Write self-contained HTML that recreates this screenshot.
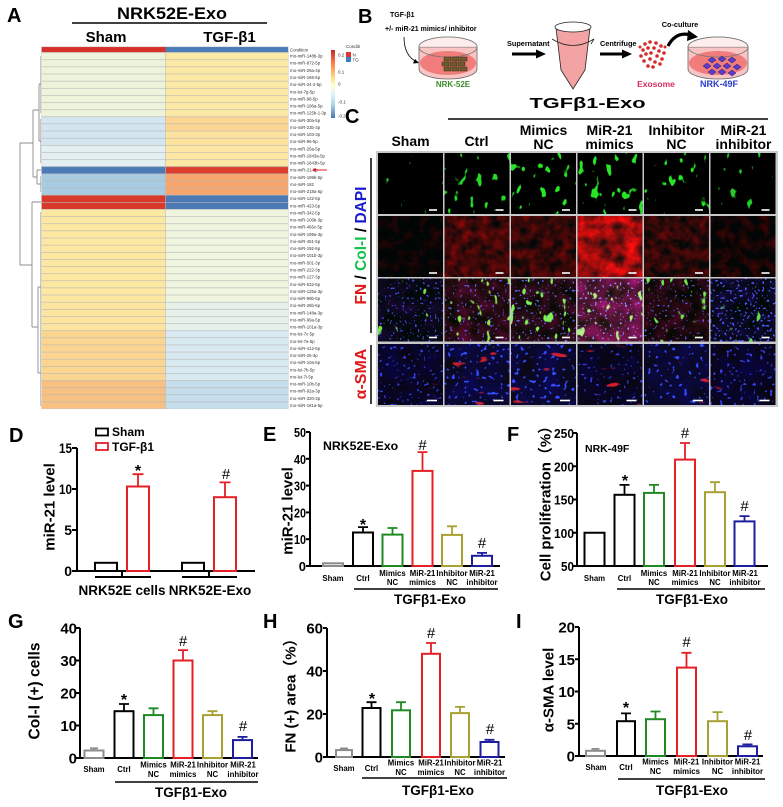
<!DOCTYPE html>
<html><head><meta charset="utf-8"><style>
html,body{margin:0;padding:0;background:#fff;}
svg{display:block;font-family:"Liberation Sans","Noto Sans CJK SC",Arial,sans-serif;}
.b{font-weight:bold;}
.xl{font-size:7.8px;font-weight:bold;text-anchor:middle;}
.tk{font-size:13px;font-weight:bold;text-anchor:end;}
.tk2{font-size:15px;font-weight:bold;text-anchor:end;}
.hl{font-size:4.3px;fill:#333;}
.ax{fill:none;stroke:#000;stroke-width:2;}
.bar{fill:#fff;stroke-width:2;}
.er{stroke-width:1.8;fill:none;}
.sb{stroke:#fff;stroke-width:1.6;}
</style></head><body>
<svg width="783" height="807" viewBox="0 0 783 807" xmlns="http://www.w3.org/2000/svg">
<defs>
<pattern id="rows" x="0" y="52.3" width="300" height="7.13" patternUnits="userSpaceOnUse"><line x1="0" y1="0.3" x2="300" y2="0.3" stroke="#b5b5b5" stroke-width="0.6"/></pattern>
<linearGradient id="cbar" x1="0" y1="0" x2="0" y2="1">
<stop offset="0" stop-color="#c0262b"/><stop offset="0.15" stop-color="#f46d43"/><stop offset="0.3" stop-color="#fdae61"/><stop offset="0.42" stop-color="#fee090"/><stop offset="0.52" stop-color="#ffffcf"/><stop offset="0.65" stop-color="#e0f3f8"/><stop offset="0.8" stop-color="#abd9e9"/><stop offset="1" stop-color="#4575b4"/>
</linearGradient>
<!-- green row -->
<filter id="g1" x="0" y="0" width="1" height="1" color-interpolation-filters="sRGB"><feTurbulence type="fractalNoise" baseFrequency="0.13 0.08" numOctaves="2" seed="3"/><feColorMatrix values="0 0 0 0 0.15 0 0 0 0 0.9 0 0 0 0 0.15 0 0 0 16 -12.2"/></filter>
<filter id="g2" x="0" y="0" width="1" height="1" color-interpolation-filters="sRGB"><feTurbulence type="fractalNoise" baseFrequency="0.13 0.08" numOctaves="2" seed="5"/><feColorMatrix values="0 0 0 0 0.15 0 0 0 0 0.85 0 0 0 0 0.15 0 0 0 16 -10.7"/></filter>
<filter id="g3" x="0" y="0" width="1" height="1" color-interpolation-filters="sRGB"><feTurbulence type="fractalNoise" baseFrequency="0.13 0.08" numOctaves="2" seed="7"/><feColorMatrix values="0 0 0 0 0.15 0 0 0 0 0.9 0 0 0 0 0.15 0 0 0 16 -10.5"/></filter>
<filter id="g4" x="0" y="0" width="1" height="1" color-interpolation-filters="sRGB"><feTurbulence type="fractalNoise" baseFrequency="0.13 0.08" numOctaves="2" seed="9"/><feColorMatrix values="0 0 0 0 0.15 0 0 0 0 0.9 0 0 0 0 0.15 0 0 0 16 -10.1"/></filter>
<filter id="g5" x="0" y="0" width="1" height="1" color-interpolation-filters="sRGB"><feTurbulence type="fractalNoise" baseFrequency="0.13 0.08" numOctaves="2" seed="11"/><feColorMatrix values="0 0 0 0 0.15 0 0 0 0 0.9 0 0 0 0 0.15 0 0 0 16 -10.75"/></filter>
<filter id="g6" x="0" y="0" width="1" height="1" color-interpolation-filters="sRGB"><feTurbulence type="fractalNoise" baseFrequency="0.13 0.08" numOctaves="2" seed="13"/><feColorMatrix values="0 0 0 0 0.15 0 0 0 0 0.8 0 0 0 0 0.15 0 0 0 16 -11.7"/></filter>
<!-- red row -->
<filter id="r1" x="0" y="0" width="1" height="1" color-interpolation-filters="sRGB"><feTurbulence type="fractalNoise" baseFrequency="0.1" numOctaves="3" seed="6"/><feColorMatrix values="0 0 0 0.4 -0.17 0 0 0 0 0.02 0 0 0 0 0.02 0 0 0 0 1"/></filter>
<filter id="r2" x="0" y="0" width="1" height="1" color-interpolation-filters="sRGB"><feTurbulence type="fractalNoise" baseFrequency="0.1" numOctaves="3" seed="8"/><feColorMatrix values="0 0 0 0.8 -0.15 0 0 0 0 0.03 0 0 0 0 0.03 0 0 0 0 1"/></filter>
<filter id="r3" x="0" y="0" width="1" height="1" color-interpolation-filters="sRGB"><feTurbulence type="fractalNoise" baseFrequency="0.1" numOctaves="3" seed="10"/><feColorMatrix values="0 0 0 0.75 -0.17 0 0 0 0 0.03 0 0 0 0 0.03 0 0 0 0 1"/></filter>
<filter id="r4" x="0" y="0" width="1" height="1" color-interpolation-filters="sRGB"><feTurbulence type="fractalNoise" baseFrequency="0.08" numOctaves="3" seed="12"/><feColorMatrix values="0 0 0 1.4 -0.1 0 0 0 0 0.05 0 0 0 0 0.05 0 0 0 0 1"/></filter>
<filter id="r5" x="0" y="0" width="1" height="1" color-interpolation-filters="sRGB"><feTurbulence type="fractalNoise" baseFrequency="0.1" numOctaves="3" seed="14"/><feColorMatrix values="0 0 0 0.7 -0.17 0 0 0 0 0.03 0 0 0 0 0.03 0 0 0 0 1"/></filter>
<filter id="r6" x="0" y="0" width="1" height="1" color-interpolation-filters="sRGB"><feTurbulence type="fractalNoise" baseFrequency="0.1" numOctaves="3" seed="16"/><feColorMatrix values="0 0 0 0.5 -0.18 0 0 0 0 0.02 0 0 0 0 0.02 0 0 0 0 1"/></filter>
<!-- merge row -->
<filter id="m1" x="0" y="0" width="1" height="1" color-interpolation-filters="sRGB"><feTurbulence type="fractalNoise" baseFrequency="0.07" numOctaves="2" seed="21" result="n1"/><feColorMatrix in="n1" values="0 0 0 0.15 -0.04 0 0 0 0 0.03 0 0 0 0.3 -0.06 0 0 0 0 1" result="h"/><feTurbulence type="fractalNoise" baseFrequency="0.4" numOctaves="1" seed="2" result="n2"/><feColorMatrix in="n2" values="0 0 0 0 0.25 0 0 0 0 0.3 0 0 0 0 0.9 0 0 0 20 -13.0" result="dt"/><feTurbulence type="fractalNoise" baseFrequency="0.13 0.08" numOctaves="2" seed="23" result="n3"/><feColorMatrix in="n3" values="0 0 0 0 0.45 0 0 0 0 0.9 0 0 0 0 0.3 0 0 0 16 -12.2" result="gr"/><feMerge><feMergeNode in="h"/><feMergeNode in="dt"/><feMergeNode in="gr"/></feMerge></filter>
<filter id="m2" x="0" y="0" width="1" height="1" color-interpolation-filters="sRGB"><feTurbulence type="fractalNoise" baseFrequency="0.07" numOctaves="2" seed="25" result="n1"/><feColorMatrix in="n1" values="0 0 0 0.5 -0.1 0 0 0 0 0.04 0 0 0 0.3 -0.08 0 0 0 0 1" result="h"/><feTurbulence type="fractalNoise" baseFrequency="0.4" numOctaves="1" seed="4" result="n2"/><feColorMatrix in="n2" values="0 0 0 0 0.4 0 0 0 0 0.35 0 0 0 0 0.95 0 0 0 20 -13.0" result="dt"/><feTurbulence type="fractalNoise" baseFrequency="0.13 0.08" numOctaves="2" seed="27" result="n3"/><feColorMatrix in="n3" values="0 0 0 0 0.55 0 0 0 0 0.9 0 0 0 0 0.3 0 0 0 16 -10.9" result="gr"/><feMerge><feMergeNode in="h"/><feMergeNode in="dt"/><feMergeNode in="gr"/></feMerge></filter>
<filter id="m3" x="0" y="0" width="1" height="1" color-interpolation-filters="sRGB"><feTurbulence type="fractalNoise" baseFrequency="0.07" numOctaves="2" seed="29" result="n1"/><feColorMatrix in="n1" values="0 0 0 0.45 -0.1 0 0 0 0 0.04 0 0 0 0.25 -0.06 0 0 0 0 1" result="h"/><feTurbulence type="fractalNoise" baseFrequency="0.4" numOctaves="1" seed="6" result="n2"/><feColorMatrix in="n2" values="0 0 0 0 0.35 0 0 0 0 0.4 0 0 0 0 0.95 0 0 0 20 -13.0" result="dt"/><feTurbulence type="fractalNoise" baseFrequency="0.13 0.08" numOctaves="2" seed="31" result="n3"/><feColorMatrix in="n3" values="0 0 0 0 0.5 0 0 0 0 0.95 0 0 0 0 0.35 0 0 0 16 -10.6" result="gr"/><feMerge><feMergeNode in="h"/><feMergeNode in="dt"/><feMergeNode in="gr"/></feMerge></filter>
<filter id="m4" x="0" y="0" width="1" height="1" color-interpolation-filters="sRGB"><feTurbulence type="fractalNoise" baseFrequency="0.07" numOctaves="2" seed="33" result="n1"/><feColorMatrix in="n1" values="0 0 0 0.8 -0.05 0 0 0 0 0.08 0 0 0 0.6 -0.08 0 0 0 0 1" result="h"/><feTurbulence type="fractalNoise" baseFrequency="0.4" numOctaves="1" seed="8" result="n2"/><feColorMatrix in="n2" values="0 0 0 0 0.55 0 0 0 0 0.55 0 0 0 0 1 0 0 0 20 -13.0" result="dt"/><feTurbulence type="fractalNoise" baseFrequency="0.13 0.08" numOctaves="2" seed="35" result="n3"/><feColorMatrix in="n3" values="0 0 0 0 0.7 0 0 0 0 0.95 0 0 0 0 0.5 0 0 0 16 -10.6" result="gr"/><feMerge><feMergeNode in="h"/><feMergeNode in="dt"/><feMergeNode in="gr"/></feMerge></filter>
<filter id="m5" x="0" y="0" width="1" height="1" color-interpolation-filters="sRGB"><feTurbulence type="fractalNoise" baseFrequency="0.07" numOctaves="2" seed="37" result="n1"/><feColorMatrix in="n1" values="0 0 0 0.45 -0.11 0 0 0 0 0.03 0 0 0 0.2 -0.05 0 0 0 0 1" result="h"/><feTurbulence type="fractalNoise" baseFrequency="0.4" numOctaves="1" seed="10" result="n2"/><feColorMatrix in="n2" values="0 0 0 0 0.35 0 0 0 0 0.35 0 0 0 0 0.9 0 0 0 20 -13.2" result="dt"/><feTurbulence type="fractalNoise" baseFrequency="0.13 0.08" numOctaves="2" seed="39" result="n3"/><feColorMatrix in="n3" values="0 0 0 0 0.45 0 0 0 0 0.9 0 0 0 0 0.3 0 0 0 16 -11.0" result="gr"/><feMerge><feMergeNode in="h"/><feMergeNode in="dt"/><feMergeNode in="gr"/></feMerge></filter>
<filter id="m6" x="0" y="0" width="1" height="1" color-interpolation-filters="sRGB"><feTurbulence type="fractalNoise" baseFrequency="0.07" numOctaves="2" seed="41" result="n1"/><feColorMatrix in="n1" values="0 0 0 0.15 -0.04 0 0 0 0 0.03 0 0 0 0.45 -0.1 0 0 0 0 1" result="h"/><feTurbulence type="fractalNoise" baseFrequency="0.4" numOctaves="1" seed="12" result="n2"/><feColorMatrix in="n2" values="0 0 0 0 0.3 0 0 0 0 0.35 0 0 0 0 1 0 0 0 20 -12.6" result="dt"/><feTurbulence type="fractalNoise" baseFrequency="0.13 0.08" numOctaves="2" seed="43" result="n3"/><feColorMatrix in="n3" values="0 0 0 0 0.4 0 0 0 0 0.85 0 0 0 0 0.3 0 0 0 16 -11.8" result="gr"/><feMerge><feMergeNode in="h"/><feMergeNode in="dt"/><feMergeNode in="gr"/></feMerge></filter>
<!-- alpha-SMA row -->
<filter id="s1" x="0" y="0" width="1" height="1" color-interpolation-filters="sRGB"><feTurbulence type="fractalNoise" baseFrequency="0.05" numOctaves="2" seed="51" result="n1"/><feColorMatrix in="n1" values="0 0 0 0 0.03 0 0 0 0 0.02 0 0 0 0.3 0.0 0 0 0 0 1" result="h"/><feTurbulence type="fractalNoise" baseFrequency="0.3" numOctaves="1" seed="52" result="n2"/><feColorMatrix in="n2" values="0 0 0 0 0.2 0 0 0 0 0.25 0 0 0 0 0.9 0 0 0 18 -11.6" result="dt"/><feTurbulence type="fractalNoise" baseFrequency="0.04 0.12" numOctaves="2" seed="53" result="n3"/><feColorMatrix in="n3" values="0 0 0 0 0.85 0 0 0 0 0.1 0 0 0 0 0.15 0 0 0 16 -12.5" result="rd"/><feMerge><feMergeNode in="h"/><feMergeNode in="dt"/><feMergeNode in="rd"/></feMerge></filter>
<filter id="s2" x="0" y="0" width="1" height="1" color-interpolation-filters="sRGB"><feTurbulence type="fractalNoise" baseFrequency="0.05" numOctaves="2" seed="55" result="n1"/><feColorMatrix in="n1" values="0 0 0 0 0.04 0 0 0 0 0.03 0 0 0 0.4 0.0 0 0 0 0 1" result="h"/><feTurbulence type="fractalNoise" baseFrequency="0.25" numOctaves="1" seed="56" result="n2"/><feColorMatrix in="n2" values="0 0 0 0 0.2 0 0 0 0 0.3 0 0 0 0 1 0 0 0 18 -11.5" result="dt"/><feTurbulence type="fractalNoise" baseFrequency="0.04 0.12" numOctaves="2" seed="57" result="n3"/><feColorMatrix in="n3" values="0 0 0 0 0.8 0 0 0 0 0.12 0 0 0 0 0.2 0 0 0 16 -11.5" result="rd"/><feMerge><feMergeNode in="h"/><feMergeNode in="dt"/><feMergeNode in="rd"/></feMerge></filter>
<filter id="s3" x="0" y="0" width="1" height="1" color-interpolation-filters="sRGB"><feTurbulence type="fractalNoise" baseFrequency="0.05" numOctaves="2" seed="59" result="n1"/><feColorMatrix in="n1" values="0 0 0 0 0.04 0 0 0 0 0.03 0 0 0 0.4 0.0 0 0 0 0 1" result="h"/><feTurbulence type="fractalNoise" baseFrequency="0.25" numOctaves="1" seed="60" result="n2"/><feColorMatrix in="n2" values="0 0 0 0 0.2 0 0 0 0 0.3 0 0 0 0 1 0 0 0 18 -11.5" result="dt"/><feTurbulence type="fractalNoise" baseFrequency="0.04 0.12" numOctaves="2" seed="61" result="n3"/><feColorMatrix in="n3" values="0 0 0 0 0.8 0 0 0 0 0.12 0 0 0 0 0.2 0 0 0 16 -11.7" result="rd"/><feMerge><feMergeNode in="h"/><feMergeNode in="dt"/><feMergeNode in="rd"/></feMerge></filter>
<filter id="s4" x="0" y="0" width="1" height="1" color-interpolation-filters="sRGB"><feTurbulence type="fractalNoise" baseFrequency="0.05" numOctaves="2" seed="63" result="n1"/><feColorMatrix in="n1" values="0 0 0 0 0.03 0 0 0 0 0.02 0 0 0 0.25 0.0 0 0 0 0 1" result="h"/><feTurbulence type="fractalNoise" baseFrequency="0.3" numOctaves="1" seed="64" result="n2"/><feColorMatrix in="n2" values="0 0 0 0 0.2 0 0 0 0 0.25 0 0 0 0 0.9 0 0 0 18 -11.9" result="dt"/><feTurbulence type="fractalNoise" baseFrequency="0.04 0.12" numOctaves="2" seed="65" result="n3"/><feColorMatrix in="n3" values="0 0 0 0 0.85 0 0 0 0 0.1 0 0 0 0 0.15 0 0 0 16 -11.7" result="rd"/><feMerge><feMergeNode in="h"/><feMergeNode in="dt"/><feMergeNode in="rd"/></feMerge></filter>
<filter id="s5" x="0" y="0" width="1" height="1" color-interpolation-filters="sRGB"><feTurbulence type="fractalNoise" baseFrequency="0.05" numOctaves="2" seed="67" result="n1"/><feColorMatrix in="n1" values="0 0 0 0 0.04 0 0 0 0 0.03 0 0 0 0.4 0.0 0 0 0 0 1" result="h"/><feTurbulence type="fractalNoise" baseFrequency="0.25" numOctaves="1" seed="68" result="n2"/><feColorMatrix in="n2" values="0 0 0 0 0.2 0 0 0 0 0.3 0 0 0 0 1 0 0 0 18 -11.6" result="dt"/><feTurbulence type="fractalNoise" baseFrequency="0.04 0.12" numOctaves="2" seed="69" result="n3"/><feColorMatrix in="n3" values="0 0 0 0 0.8 0 0 0 0 0.12 0 0 0 0 0.2 0 0 0 16 -11.75" result="rd"/><feMerge><feMergeNode in="h"/><feMergeNode in="dt"/><feMergeNode in="rd"/></feMerge></filter>
<filter id="s6" x="0" y="0" width="1" height="1" color-interpolation-filters="sRGB"><feTurbulence type="fractalNoise" baseFrequency="0.05" numOctaves="2" seed="71" result="n1"/><feColorMatrix in="n1" values="0 0 0 0 0.03 0 0 0 0 0.02 0 0 0 0.3 0.0 0 0 0 0 1" result="h"/><feTurbulence type="fractalNoise" baseFrequency="0.3" numOctaves="1" seed="72" result="n2"/><feColorMatrix in="n2" values="0 0 0 0 0.2 0 0 0 0 0.25 0 0 0 0 0.9 0 0 0 18 -11.6" result="dt"/><feTurbulence type="fractalNoise" baseFrequency="0.04 0.12" numOctaves="2" seed="73" result="n3"/><feColorMatrix in="n3" values="0 0 0 0 0.85 0 0 0 0 0.1 0 0 0 0 0.15 0 0 0 16 -12.5" result="rd"/><feMerge><feMergeNode in="h"/><feMergeNode in="dt"/><feMergeNode in="rd"/></feMerge></filter>
</defs>

<rect width="783" height="807" fill="#fff"/>

<!-- ================= PANEL A ================= -->
<text x="7" y="22" class="b" font-size="20">A</text>
<text x="172" y="19" class="b" font-size="17" text-anchor="middle" textLength="110" lengthAdjust="spacingAndGlyphs">NRK52E-Exo</text>
<line x1="72" y1="23" x2="267" y2="23" stroke="#000" stroke-width="1.5"/>
<text x="106" y="42" class="b" font-size="15" text-anchor="middle">Sham</text>
<text x="229.5" y="42" class="b" font-size="15" text-anchor="middle">TGF-β1</text>

<rect x="41.5" y="46.8" width="124" height="5.5" fill="#d7302a"/>
<rect x="165.5" y="46.8" width="122.8" height="5.5" fill="#4a7cb6"/>
<rect x="41.5" y="52.3" width="124" height="64.17" fill="#eef4db"/>
<rect x="41.5" y="116.47" width="124" height="28.52" fill="#d3e6ef"/>
<rect x="41.5" y="144.99" width="124" height="21.39" fill="#e3eff0"/>
<rect x="41.5" y="166.38" width="124" height="7.13" fill="#4b7bb5"/>
<rect x="41.5" y="173.51" width="124" height="21.39" fill="#a8cbe2"/>
<rect x="41.5" y="194.9" width="124" height="14.26" fill="#d8392b"/>
<rect x="41.5" y="209.16" width="124" height="92.69" fill="#fde8a2"/>
<rect x="41.5" y="301.85" width="124" height="28.52" fill="#fde5a0"/>
<rect x="41.5" y="330.37" width="124" height="49.91" fill="#fcd591"/>
<rect x="41.5" y="380.28" width="124" height="28.52" fill="#f8c081"/>
<rect x="165.5" y="52.3" width="122.8" height="64.17" fill="#fde9a6"/>
<rect x="165.5" y="116.47" width="122.8" height="14.26" fill="#fcd592"/>
<rect x="165.5" y="130.73" width="122.8" height="14.26" fill="#fde39d"/>
<rect x="165.5" y="144.99" width="122.8" height="21.39" fill="#fde7a2"/>
<rect x="165.5" y="166.38" width="122.8" height="7.13" fill="#dd3d2d"/>
<rect x="165.5" y="173.51" width="122.8" height="21.39" fill="#f6a66c"/>
<rect x="165.5" y="194.9" width="122.8" height="14.26" fill="#4d79b5"/>
<rect x="165.5" y="209.16" width="122.8" height="92.69" fill="#eff5df"/>
<rect x="165.5" y="301.85" width="122.8" height="28.52" fill="#e6f1ea"/>
<rect x="165.5" y="330.37" width="122.8" height="49.91" fill="#d9e9f1"/>
<rect x="165.5" y="380.28" width="122.8" height="28.52" fill="#c6ddec"/>
<rect x="41.5" y="52.3" width="246.8" height="356.5" fill="url(#rows)"/>
<line x1="165.5" y1="52.3" x2="165.5" y2="408.8" stroke="#bbb" stroke-width="0.6"/>
<rect x="41.5" y="46.8" width="246.8" height="362" fill="none" stroke="#c8c8c8" stroke-width="0.5"/>

<g stroke="#8c8c8c" stroke-width="0.9" fill="none">
<path d="M20,143 V265 M20,143 H33 M20,265 H32"/>
<path d="M33,110 V177 M33,110 H39 M33,177 H37"/>
<path d="M39,84 V141 M39,84 H41 M39,141 H41"/>
<path d="M37,170 V184 M37,170 H41 M37,184 H41"/>
<path d="M32,202 V327 M32,202 H41 M32,327 H38"/>
<path d="M38,287 V373 M38,287 H41 M38,373 H41"/>
<path d="M40.5,56 V113 M40.5,119 V163 M40.5,176 V192 M40.5,212 V406" stroke-width="0.5"/>
</g>

<text x="290" y="51.5" class="hl">Condition</text>
<text x="290" y="57.6" class="hl">rno-miR-148b-3p</text>
<text x="290" y="64.7" class="hl">rno-miR-872-5p</text>
<text x="290" y="71.9" class="hl">rno-miR-29a-3p</text>
<text x="290" y="79.0" class="hl">rno-miR-155-5p</text>
<text x="290" y="86.1" class="hl">rno-miR-24-2-5p</text>
<text x="290" y="93.3" class="hl">rno-let-7g-5p</text>
<text x="290" y="100.4" class="hl">rno-miR-98-5p</text>
<text x="290" y="107.5" class="hl">rno-miR-196a-5p</text>
<text x="290" y="114.6" class="hl">rno-miR-125b-1-3p</text>
<text x="290" y="121.8" class="hl">rno-miR-30a-5p</text>
<text x="290" y="128.9" class="hl">rno-miR-23b-3p</text>
<text x="290" y="136.0" class="hl">rno-miR-103-3p</text>
<text x="290" y="143.2" class="hl">rno-miR-96-5p</text>
<text x="290" y="150.3" class="hl">rno-miR-26a-5p</text>
<text x="290" y="157.4" class="hl">rno-miR-1843a-5p</text>
<text x="290" y="164.6" class="hl">rno-miR-1843b-5p</text>
<text x="290" y="171.7" class="hl">rno-miR-21-3p</text>
<text x="290" y="178.8" class="hl">rno-miR-199b-5p</text>
<text x="290" y="185.9" class="hl">rno-miR-182</text>
<text x="290" y="193.1" class="hl">rno-miR-218a-5p</text>
<text x="290" y="200.2" class="hl">rno-miR-122-5p</text>
<text x="290" y="207.3" class="hl">rno-miR-423-5p</text>
<text x="290" y="214.5" class="hl">rno-miR-342-5p</text>
<text x="290" y="221.6" class="hl">rno-miR-106b-3p</text>
<text x="290" y="228.7" class="hl">rno-miR-466c-5p</text>
<text x="290" y="235.9" class="hl">rno-miR-199a-3p</text>
<text x="290" y="243.0" class="hl">rno-miR-451-5p</text>
<text x="290" y="250.1" class="hl">rno-miR-192-5p</text>
<text x="290" y="257.2" class="hl">rno-miR-101b-3p</text>
<text x="290" y="264.4" class="hl">rno-miR-501-3p</text>
<text x="290" y="271.5" class="hl">rno-miR-222-3p</text>
<text x="290" y="278.6" class="hl">rno-miR-127-3p</text>
<text x="290" y="285.8" class="hl">rno-miR-532-5p</text>
<text x="290" y="292.9" class="hl">rno-miR-125a-3p</text>
<text x="290" y="300.0" class="hl">rno-miR-99b-5p</text>
<text x="290" y="307.2" class="hl">rno-miR-26b-5p</text>
<text x="290" y="314.3" class="hl">rno-miR-148a-3p</text>
<text x="290" y="321.4" class="hl">rno-miR-99a-5p</text>
<text x="290" y="328.5" class="hl">rno-miR-101a-3p</text>
<text x="290" y="335.7" class="hl">rno-let-7c-5p</text>
<text x="290" y="342.8" class="hl">rno-let-7a-5p</text>
<text x="290" y="349.9" class="hl">rno-miR-412-5p</text>
<text x="290" y="357.1" class="hl">rno-miR-25-3p</text>
<text x="290" y="364.2" class="hl">rno-miR-10a-5p</text>
<text x="290" y="371.3" class="hl">rno-let-7b-5p</text>
<text x="290" y="378.5" class="hl">rno-let-7i-5p</text>
<text x="290" y="385.6" class="hl">rno-miR-10b-5p</text>
<text x="290" y="392.7" class="hl">rno-miR-92a-3p</text>
<text x="290" y="399.8" class="hl">rno-miR-320-3p</text>
<text x="290" y="407.0" class="hl">rno-miR-181a-5p</text>
<line x1="314" y1="170" x2="327" y2="170" stroke="#e0202a" stroke-width="1"/>
<polygon points="312,170 316,168 316,172" fill="#e0202a"/>
<rect x="331" y="50" width="4" height="68" fill="url(#cbar)"/>
<g font-size="4.5" fill="#333">
<text x="338" y="56.5">0.2</text><text x="338" y="73.5">0.1</text><text x="338" y="85.5">0</text><text x="338" y="103.5">-0.1</text><text x="338" y="117.5">-0.2</text>
<text x="346" y="48">Conditi</text>
</g>
<rect x="346" y="52" width="5" height="5" fill="#e0332c"/><text x="352.5" y="56.5" font-size="4.5" fill="#333">N</text>
<rect x="346" y="57" width="5" height="5" fill="#3d7fc0"/><text x="352.5" y="61.5" font-size="4.5" fill="#333">TG</text>

<!-- ================= PANEL B ================= -->
<text x="358" y="23" class="b" font-size="20">B</text>
<text x="390" y="17" class="b" font-size="7">TGF-β1</text>
<text x="385" y="31" class="b" font-size="7">+/- miR-21 mimics/ inhibitor</text>
<path d="M404,37 Q404,56 417,62" fill="none" stroke="#000" stroke-width="0.8"/>
<polygon points="419,63 413,63.5 415,59" fill="#000"/>
<path d="M419,47 L419,69 A29,10 0 0 0 477,69 L477,47 Z" fill="#f8c4c4" stroke="#666" stroke-width="0.8"/>
<ellipse cx="448" cy="63" rx="28" ry="12" fill="#f07c7c"/>
<ellipse cx="448" cy="47" rx="29" ry="10" fill="none" stroke="#777" stroke-width="0.8"/>
<path d="M419,47 A29,10 0 0 1 477,47" fill="#fde6e6" fill-opacity="0.7" stroke="#777" stroke-width="0.8"/>
<g fill="#6e5a2e" stroke="#3a2e10" stroke-width="0.5">
<rect x="444" y="57" width="7" height="4"/><rect x="452" y="57" width="7" height="4"/><rect x="460" y="57" width="7" height="4"/>
<rect x="442" y="62" width="7" height="4"/><rect x="450" y="62" width="7" height="4"/><rect x="458" y="62" width="7" height="4"/>
<rect x="444" y="67" width="7" height="4"/><rect x="452" y="67" width="7" height="4"/><rect x="460" y="67" width="7" height="4"/>
</g>
<text x="453" y="87" class="b" font-size="8" fill="#3d8b2a" text-anchor="middle">NRK-52E</text>
<text x="507" y="46" class="b" font-size="7.3">Supernatant</text>
<line x1="512" y1="54" x2="538" y2="54" stroke="#000" stroke-width="3"/>
<polygon points="536,49.5 546,54 536,58.5" fill="#000"/>
<path d="M556,28 L561,70 L573,89 L585,70 L590,28 Z" fill="#f3a3a3" stroke="#222" stroke-width="0.8"/>
<ellipse cx="573" cy="27" rx="18" ry="5" fill="#fff" stroke="#222" stroke-width="0.8"/>
<path d="M552,39 Q573,52 594,39" fill="none" stroke="#222" stroke-width="0.8"/>
<path d="M594,39 L591,44" fill="none" stroke="#222" stroke-width="0.8"/>
<text x="600" y="46" class="b" font-size="7.3">Centrifuge</text>
<line x1="600" y1="54" x2="624" y2="54" stroke="#000" stroke-width="3"/>
<polygon points="622,49.5 632,54 622,58.5" fill="#000"/>
<g fill="#d42a2a">
<circle cx="645" cy="44" r="1.8"/><circle cx="650" cy="42" r="1.8"/><circle cx="656" cy="43" r="1.8"/><circle cx="661" cy="46" r="1.8"/>
<circle cx="643" cy="50" r="1.8"/><circle cx="648" cy="48" r="1.8"/><circle cx="654" cy="48" r="1.8"/><circle cx="659" cy="51" r="1.8"/><circle cx="664" cy="53" r="1.8"/>
<circle cx="641" cy="56" r="1.8"/><circle cx="646" cy="54" r="1.8"/><circle cx="651" cy="53" r="1.8"/><circle cx="657" cy="56" r="1.8"/><circle cx="662" cy="59" r="1.8"/>
<circle cx="644" cy="61" r="1.8"/><circle cx="650" cy="59" r="1.8"/><circle cx="655" cy="62" r="1.8"/><circle cx="660" cy="64" r="1.8"/>
<circle cx="648" cy="66" r="1.8"/><circle cx="653" cy="67" r="1.8"/><circle cx="640" cy="47" r="1.5"/><circle cx="665" cy="47" r="1.5"/>
</g>
<text x="656" y="87" class="b" font-size="8.5" fill="#d62a5a" text-anchor="middle">Exosome</text>
<text x="680" y="27" class="b" font-size="7.3" text-anchor="middle">Co-culture</text>
<path d="M668,46 Q676,31 691,35" fill="none" stroke="#000" stroke-width="3.2"/>
<polygon points="688,30 698,37 687,41" fill="#000"/>
<path d="M688,47 L688,69 A30,10 0 0 0 748,69 L748,47 Z" fill="#f8c4c4" stroke="#666" stroke-width="0.8"/>
<ellipse cx="718" cy="63" rx="29" ry="12" fill="#f07c7c"/>
<path d="M688,47 A30,10 0 0 1 748,47" fill="#fde6e6" fill-opacity="0.7" stroke="#777" stroke-width="0.8"/>
<ellipse cx="718" cy="47" rx="30" ry="10" fill="none" stroke="#777" stroke-width="0.8"/>
<g fill="#5a3cc8" stroke="#2a1a70" stroke-width="0.5">
<polygon points="712,57 716,60 712,63 708,60"/><polygon points="722,56 726,59 722,62 718,59"/><polygon points="732,57 736,60 732,63 728,60"/>
<polygon points="707,63 711,66 707,69 703,66"/><polygon points="717,63 721,66 717,69 713,66"/><polygon points="727,63 731,66 727,69 723,66"/><polygon points="737,64 741,67 737,70 733,67"/>
<polygon points="712,69 716,72 712,75 708,72"/><polygon points="722,69 726,72 722,75 718,72"/><polygon points="732,70 736,73 732,76 728,73"/>
</g>
<text x="719" y="87" class="b" font-size="9" fill="#2a3cc8" text-anchor="middle">NRK-49F</text>

<!-- ================= PANEL C ================= -->
<text x="345" y="123" class="b" font-size="20">C</text>
<text x="587.5" y="108" class="b" font-size="15" text-anchor="middle" textLength="116" lengthAdjust="spacingAndGlyphs">TGFβ1-Exo</text>
<line x1="448" y1="119" x2="768" y2="119" stroke="#000" stroke-width="1.5"/>
<g class="b" font-size="14" text-anchor="middle">
<text x="410.5" y="146">Sham</text>
<text x="476.5" y="146">Ctrl</text>
<text x="543.5" y="135">Mimics</text><text x="543.5" y="149">NC</text>
<text x="609.5" y="135">MiR-21</text><text x="609.5" y="149">mimics</text>
<text x="676.5" y="135">Inhibitor</text><text x="676.5" y="149">NC</text>
<text x="743.5" y="135">MiR-21</text><text x="743.5" y="149">inhibitor</text>
</g>
<line x1="371" y1="158" x2="371" y2="333" stroke="#000" stroke-width="1.5"/>
<line x1="371" y1="345" x2="371" y2="404" stroke="#000" stroke-width="1.5"/>
<text transform="translate(366,245.5) rotate(-90)" class="b" font-size="15.5" text-anchor="middle"><tspan fill="#e01818">FN</tspan><tspan fill="#000"> / </tspan><tspan fill="#12c24a">Col-I</tspan><tspan fill="#000"> / </tspan><tspan fill="#1a1ad0">DAPI</tspan></text>
<text transform="translate(366,374) rotate(-90)" class="b" font-size="16" text-anchor="middle" fill="#e01818">α-SMA</text>

<rect x="376" y="151" width="402" height="256" fill="#c9c9c9"/>
<rect x="378" y="153" width="65" height="61" fill="#000"/><rect x="378" y="153" width="65" height="61" filter="url(#g1)"/>
<rect x="444.5" y="153" width="65" height="61" fill="#000"/><rect x="444.5" y="153" width="65" height="61" filter="url(#g2)"/>
<rect x="511" y="153" width="65" height="61" fill="#000"/><rect x="511" y="153" width="65" height="61" filter="url(#g3)"/>
<rect x="577.5" y="153" width="65" height="61" fill="#000"/><rect x="577.5" y="153" width="65" height="61" filter="url(#g4)"/>
<rect x="644" y="153" width="65" height="61" fill="#000"/><rect x="644" y="153" width="65" height="61" filter="url(#g5)"/>
<rect x="710.5" y="153" width="65" height="61" fill="#000"/><rect x="710.5" y="153" width="65" height="61" filter="url(#g6)"/>
<rect x="378" y="216" width="65" height="61" filter="url(#r1)"/>
<rect x="444.5" y="216" width="65" height="61" filter="url(#r2)"/>
<rect x="511" y="216" width="65" height="61" filter="url(#r3)"/>
<rect x="577.5" y="216" width="65" height="61" filter="url(#r4)"/>
<rect x="644" y="216" width="65" height="61" filter="url(#r5)"/>
<rect x="710.5" y="216" width="65" height="61" filter="url(#r6)"/>
<rect x="378" y="278.5" width="65" height="63" filter="url(#m1)"/>
<rect x="444.5" y="278.5" width="65" height="63" filter="url(#m2)"/>
<rect x="511" y="278.5" width="65" height="63" filter="url(#m3)"/>
<rect x="577.5" y="278.5" width="65" height="63" filter="url(#m4)"/>
<rect x="644" y="278.5" width="65" height="63" filter="url(#m5)"/>
<rect x="710.5" y="278.5" width="65" height="63" filter="url(#m6)"/>
<rect x="378" y="344" width="65" height="61" filter="url(#s1)"/>
<rect x="444.5" y="344" width="65" height="61" filter="url(#s2)"/>
<rect x="511" y="344" width="65" height="61" filter="url(#s3)"/>
<rect x="577.5" y="344" width="65" height="61" filter="url(#s4)"/>
<rect x="644" y="344" width="65" height="61" filter="url(#s5)"/>
<rect x="710.5" y="344" width="65" height="61" filter="url(#s6)"/>
<g class="sb">
<line x1="429" y1="210" x2="437" y2="210"/><line x1="495.5" y1="210" x2="503.5" y2="210"/><line x1="562" y1="210" x2="570" y2="210"/><line x1="628.5" y1="210" x2="636.5" y2="210"/><line x1="695" y1="210" x2="703" y2="210"/><line x1="761.5" y1="210" x2="769.5" y2="210"/>
<line x1="429" y1="273" x2="437" y2="273"/><line x1="495.5" y1="273" x2="503.5" y2="273"/><line x1="562" y1="273" x2="570" y2="273"/><line x1="628.5" y1="273" x2="636.5" y2="273"/><line x1="695" y1="273" x2="703" y2="273"/><line x1="761.5" y1="273" x2="769.5" y2="273"/>
<line x1="429" y1="337.5" x2="437" y2="337.5"/><line x1="495.5" y1="337.5" x2="503.5" y2="337.5"/><line x1="562" y1="337.5" x2="570" y2="337.5"/><line x1="628.5" y1="337.5" x2="636.5" y2="337.5"/><line x1="695" y1="337.5" x2="703" y2="337.5"/><line x1="761.5" y1="337.5" x2="769.5" y2="337.5"/>
<line x1="427" y1="400.5" x2="437" y2="400.5"/><line x1="493.5" y1="400.5" x2="503.5" y2="400.5"/><line x1="560" y1="400.5" x2="570" y2="400.5"/><line x1="626.5" y1="400.5" x2="636.5" y2="400.5"/><line x1="693" y1="400.5" x2="703" y2="400.5"/><line x1="759.5" y1="400.5" x2="769.5" y2="400.5"/>
</g>

<!-- ================= PANEL D ================= -->
<text x="9" y="442" class="b" font-size="20">D</text>
<rect x="96" y="428.5" width="12" height="7" fill="#fff" stroke="#000" stroke-width="1.8"/>
<text x="112" y="436" class="b" font-size="12">Sham</text>
<rect x="96" y="443" width="12" height="7" fill="#fff" stroke="#e41f26" stroke-width="1.8"/>
<text x="112" y="451" class="b" font-size="12">TGF-β1</text>
<path class="ax" d="M77,448 V571 H255"/>
<g stroke="#000" stroke-width="2"><line x1="72" y1="448" x2="77" y2="448"/><line x1="72" y1="489" x2="77" y2="489"/><line x1="72" y1="530" x2="77" y2="530"/><line x1="72" y1="571" x2="77" y2="571"/><line x1="122" y1="571" x2="122" y2="576"/><line x1="209" y1="571" x2="209" y2="576"/></g>
<g class="b" font-size="14" text-anchor="end">
<text x="72" y="453" textLength="13" lengthAdjust="spacingAndGlyphs">15</text><text x="72" y="494" textLength="13" lengthAdjust="spacingAndGlyphs">10</text><text x="72" y="535">5</text><text x="72" y="576">0</text>
</g>
<text transform="translate(50,507) rotate(-90)" class="b" font-size="15" text-anchor="middle" dominant-baseline="central">miR-21 level</text>
<rect class="bar" x="95" y="562.8" width="22" height="8.2" stroke="#000"/>
<rect class="bar" x="127" y="486.5" width="22" height="84.5" stroke="#e41f26"/>
<path class="er" stroke="#e41f26" d="M138,486.5 V474.2 M132.5,474.2 H143.5"/>
<rect class="bar" x="182" y="562.8" width="22" height="8.2" stroke="#000"/>
<rect class="bar" x="214" y="497.2" width="22" height="73.8" stroke="#e41f26"/>
<path class="er" stroke="#e41f26" d="M225,497.2 V482.4 M219.5,482.4 H230.5"/>
<text x="138" y="476" class="b" font-size="16" text-anchor="middle">*</text>
<text x="226" y="479" font-size="15" text-anchor="middle">#</text>
<line x1="95" y1="577" x2="151" y2="577" stroke="#000" stroke-width="2"/>
<line x1="182" y1="577" x2="237" y2="577" stroke="#000" stroke-width="2"/>
<text x="122" y="595" class="b" font-size="13.5" text-anchor="middle">NRK52E cells</text>
<text x="210" y="595" class="b" font-size="13.5" text-anchor="middle">NRK52E-Exo</text>

<!-- ================= PANEL E ================= -->
<text x="263" y="441" class="b" font-size="20">E</text>
<path class="ax" d="M310,432 V566 H500"/>
<g stroke="#000" stroke-width="2"><line x1="306" y1="432" x2="310" y2="432"/><line x1="306" y1="458.8" x2="310" y2="458.8"/><line x1="306" y1="485.6" x2="310" y2="485.6"/><line x1="306" y1="512.4" x2="310" y2="512.4"/><line x1="306" y1="539.2" x2="310" y2="539.2"/><line x1="306" y1="566" x2="310" y2="566"/></g>
<text x="306" y="437" class="tk" textLength="12" lengthAdjust="spacingAndGlyphs">50</text><text x="306" y="463.8" class="tk" textLength="12" lengthAdjust="spacingAndGlyphs">40</text><text x="306" y="490.6" class="tk" textLength="12" lengthAdjust="spacingAndGlyphs">30</text><text x="306" y="517.4" class="tk" textLength="12" lengthAdjust="spacingAndGlyphs">20</text><text x="306" y="544.2" class="tk" textLength="12" lengthAdjust="spacingAndGlyphs">10</text><text x="306" y="571" class="tk">0</text>
<text transform="translate(288,511) rotate(-90)" class="b" font-size="15" text-anchor="middle" dominant-baseline="central">miR-21 level</text>
<text x="323" y="450" class="b" font-size="12.3">NRK52E-Exo</text>
<rect class="bar" x="323" y="563.3" width="20" height="2.7" stroke="#8c8c8c"/>
<rect class="bar" x="353" y="532.5" width="20" height="33.5" stroke="#000"/>
<path class="er" stroke="#000" d="M363,532.5 V527.1 M358,527.1 H368"/>
<rect class="bar" x="382.5" y="534.6" width="20" height="31.4" stroke="#1f8a24"/>
<path class="er" stroke="#1f8a24" d="M392.5,534.6 V528 M387.5,528 H397.5"/>
<rect class="bar" x="412.5" y="470.9" width="20" height="95.1" stroke="#e41f26"/>
<path class="er" stroke="#e41f26" d="M422.5,470.9 V452.1 M417.5,452.1 H427.5"/>
<rect class="bar" x="442" y="534.9" width="20" height="31.1" stroke="#a7a033"/>
<path class="er" stroke="#a7a033" d="M452,534.9 V526.3 M447,526.3 H457"/>
<rect class="bar" x="472" y="555.8" width="20" height="10.2" stroke="#1d1d9e"/>
<path class="er" stroke="#1d1d9e" d="M482,555.8 V552.9 M477,552.9 H487"/>
<text x="363" y="530" class="b" font-size="16" text-anchor="middle">*</text>
<text x="422.5" y="450" font-size="15" text-anchor="middle">#</text>
<text x="482" y="548" font-size="15" text-anchor="middle">#</text>
<text x="333" y="581" class="xl">Sham</text><text x="363" y="581" class="xl">Ctrl</text>
<text x="392.5" y="576" class="xl">Mimics</text><text x="392.5" y="585" class="xl">NC</text>
<text x="422.5" y="576" class="xl">MiR-21</text><text x="422.5" y="585" class="xl">mimics</text>
<text x="452" y="576" class="xl">Inhibitor</text><text x="452" y="585" class="xl">NC</text>
<text x="482" y="576" class="xl">MiR-21</text><text x="482" y="585" class="xl">inhibitor</text>
<line x1="354" y1="589" x2="498" y2="589" stroke="#000" stroke-width="1.5"/>
<text x="430" y="604" class="b" font-size="13.5" text-anchor="middle">TGFβ1-Exo</text>

<!-- ================= PANEL F ================= -->
<text x="507" y="441" class="b" font-size="20">F</text>
<path class="ax" d="M577,433 V566 H768"/>
<g stroke="#000" stroke-width="2"><line x1="573" y1="433" x2="577" y2="433"/><line x1="573" y1="466.25" x2="577" y2="466.25"/><line x1="573" y1="499.5" x2="577" y2="499.5"/><line x1="573" y1="532.75" x2="577" y2="532.75"/><line x1="573" y1="566" x2="577" y2="566"/></g>
<text x="574" y="438" class="tk" textLength="20" lengthAdjust="spacingAndGlyphs">250</text><text x="574" y="471.25" class="tk" textLength="20" lengthAdjust="spacingAndGlyphs">200</text><text x="574" y="504.5" class="tk" textLength="20" lengthAdjust="spacingAndGlyphs">150</text><text x="574" y="537.75" class="tk" textLength="20" lengthAdjust="spacingAndGlyphs">100</text><text x="574" y="571" class="tk" textLength="13" lengthAdjust="spacingAndGlyphs">50</text>
<text transform="translate(546,500) rotate(-90)" class="b" font-size="15" text-anchor="middle" dominant-baseline="central">Cell proliferation（%）</text>
<text x="585" y="452" class="b" font-size="10.5">NRK-49F</text>
<rect class="bar" x="584.5" y="532.75" width="20" height="33.25" stroke="#000"/>
<rect class="bar" x="614.5" y="494.8" width="20" height="71.2" stroke="#000"/>
<path class="er" stroke="#000" d="M624.5,494.8 V484.9 M619.5,484.9 H629.5"/>
<rect class="bar" x="644" y="492.9" width="20" height="73.1" stroke="#1f8a24"/>
<path class="er" stroke="#1f8a24" d="M654,492.9 V484.9 M649,484.9 H659"/>
<rect class="bar" x="675" y="459.6" width="20" height="106.4" stroke="#e41f26"/>
<path class="er" stroke="#e41f26" d="M685,459.6 V443 M680,443 H690"/>
<rect class="bar" x="705" y="492.2" width="20" height="73.8" stroke="#a7a033"/>
<path class="er" stroke="#a7a033" d="M715,492.2 V482.2 M710,482.2 H720"/>
<rect class="bar" x="734.5" y="521.4" width="20" height="44.6" stroke="#1d1d9e"/>
<path class="er" stroke="#1d1d9e" d="M744.5,521.4 V516.1 M739.5,516.1 H749.5"/>
<text x="625" y="486" class="b" font-size="16" text-anchor="middle">*</text>
<text x="685" y="438" font-size="15" text-anchor="middle">#</text>
<text x="744.5" y="511" font-size="15" text-anchor="middle">#</text>
<text x="594.5" y="581" class="xl">Sham</text><text x="624.5" y="581" class="xl">Ctrl</text>
<text x="654" y="576" class="xl">Mimics</text><text x="654" y="585" class="xl">NC</text>
<text x="685" y="576" class="xl">MiR-21</text><text x="685" y="585" class="xl">mimics</text>
<text x="715" y="576" class="xl">Inhibitor</text><text x="715" y="585" class="xl">NC</text>
<text x="745" y="576" class="xl">MiR-21</text><text x="745" y="585" class="xl">inhibitor</text>
<line x1="617" y1="589" x2="765" y2="589" stroke="#000" stroke-width="1.5"/>
<text x="692" y="604" class="b" font-size="13.5" text-anchor="middle">TGFβ1-Exo</text>

<!-- ================= PANEL G ================= -->
<text x="8" y="628" class="b" font-size="20">G</text>
<path class="ax" d="M80,628 V758 H258"/>
<g stroke="#000" stroke-width="2"><line x1="76" y1="628" x2="80" y2="628"/><line x1="76" y1="660.5" x2="80" y2="660.5"/><line x1="76" y1="693" x2="80" y2="693"/><line x1="76" y1="725.5" x2="80" y2="725.5"/><line x1="76" y1="758" x2="80" y2="758"/></g>
<text x="77" y="633.5" class="tk2">40</text><text x="77" y="666" class="tk2">30</text><text x="77" y="698.5" class="tk2">20</text><text x="77" y="731" class="tk2">10</text><text x="77" y="763.5" class="tk2">0</text>
<text transform="translate(35,691) rotate(-90)" class="b" font-size="15.5" text-anchor="middle" dominant-baseline="central">Col-I (+) cells</text>
<rect class="bar" x="84.5" y="750.5" width="19" height="7.5" stroke="#8c8c8c"/>
<path class="er" stroke="#8c8c8c" d="M94,750.5 V748.3 M90,748.3 H98"/>
<rect class="bar" x="114.5" y="711.2" width="19" height="46.8" stroke="#000"/>
<path class="er" stroke="#000" d="M124,711.2 V704 M119,704 H129"/>
<rect class="bar" x="144" y="715.1" width="19" height="42.9" stroke="#1f8a24"/>
<path class="er" stroke="#1f8a24" d="M153.5,715.1 V708.3 M148.5,708.3 H158.5"/>
<rect class="bar" x="173.5" y="660.5" width="19" height="97.5" stroke="#e41f26"/>
<path class="er" stroke="#e41f26" d="M183,660.5 V650.1 M178,650.1 H188"/>
<rect class="bar" x="203" y="715.1" width="19" height="42.9" stroke="#a7a033"/>
<path class="er" stroke="#a7a033" d="M212.5,715.1 V711.2 M207.5,711.2 H217.5"/>
<rect class="bar" x="233" y="740.1" width="19" height="17.9" stroke="#1d1d9e"/>
<path class="er" stroke="#1d1d9e" d="M242.5,740.1 V736.9 M237.5,736.9 H247.5"/>
<text x="124" y="705" class="b" font-size="16" text-anchor="middle">*</text>
<text x="183" y="646" font-size="15" text-anchor="middle">#</text>
<text x="243" y="731" font-size="15" text-anchor="middle">#</text>
<text x="94" y="772" class="xl">Sham</text><text x="124" y="772" class="xl">Ctrl</text>
<text x="153.5" y="767.5" class="xl">Mimics</text><text x="153.5" y="777" class="xl">NC</text>
<text x="183" y="767.5" class="xl">MiR-21</text><text x="183" y="777" class="xl">mimics</text>
<text x="212.5" y="767.5" class="xl">Inhibitor</text><text x="212.5" y="777" class="xl">NC</text>
<text x="243" y="767.5" class="xl">MiR-21</text><text x="243" y="777" class="xl">inhibitor</text>
<line x1="115" y1="782" x2="258" y2="782" stroke="#000" stroke-width="1.5"/>
<text x="191" y="797" class="b" font-size="13.5" text-anchor="middle">TGFβ1-Exo</text>

<!-- ================= PANEL H ================= -->
<text x="263" y="628" class="b" font-size="20">H</text>
<path class="ax" d="M327,628 V757 H505"/>
<g stroke="#000" stroke-width="2"><line x1="323" y1="628" x2="327" y2="628"/><line x1="323" y1="671" x2="327" y2="671"/><line x1="323" y1="714" x2="327" y2="714"/><line x1="323" y1="757" x2="327" y2="757"/></g>
<text x="323" y="633.5" class="tk2">60</text><text x="323" y="676.5" class="tk2">40</text><text x="323" y="719.5" class="tk2">20</text><text x="323" y="762.5" class="tk2">0</text>
<text transform="translate(291,692) rotate(-90)" class="b" font-size="15" text-anchor="middle" dominant-baseline="central">FN (+) area（%）</text>
<rect class="bar" x="336" y="750.1" width="16" height="6.9" stroke="#8c8c8c"/>
<path class="er" stroke="#8c8c8c" d="M344,750.1 V748.4 M340,748.4 H348"/>
<rect class="bar" x="362.5" y="708" width="18" height="49" stroke="#000"/>
<path class="er" stroke="#000" d="M371.5,708 V702.2 M366.5,702.2 H376.5"/>
<rect class="bar" x="392" y="710.3" width="18" height="46.7" stroke="#1f8a24"/>
<path class="er" stroke="#1f8a24" d="M401,710.3 V702.2 M396,702.2 H406"/>
<rect class="bar" x="422" y="653.8" width="18" height="103.2" stroke="#e41f26"/>
<path class="er" stroke="#e41f26" d="M431,653.8 V643 M426,643 H436"/>
<rect class="bar" x="451" y="713.1" width="18" height="43.9" stroke="#a7a033"/>
<path class="er" stroke="#a7a033" d="M460,713.1 V706.9 M455,706.9 H465"/>
<rect class="bar" x="480.5" y="742" width="18" height="15" stroke="#1d1d9e"/>
<path class="er" stroke="#1d1d9e" d="M489.5,742 V739.8 M484.5,739.8 H494.5"/>
<text x="372" y="704" class="b" font-size="16" text-anchor="middle">*</text>
<text x="431" y="638" font-size="15" text-anchor="middle">#</text>
<text x="490" y="734" font-size="15" text-anchor="middle">#</text>
<text x="344" y="771" class="xl">Sham</text><text x="371.5" y="771" class="xl">Ctrl</text>
<text x="401" y="765.5" class="xl">Mimics</text><text x="401" y="775" class="xl">NC</text>
<text x="431" y="765.5" class="xl">MiR-21</text><text x="431" y="775" class="xl">mimics</text>
<text x="460" y="765.5" class="xl">Inhibitor</text><text x="460" y="775" class="xl">NC</text>
<text x="489.5" y="765.5" class="xl">MiR-21</text><text x="489.5" y="775" class="xl">inhibitor</text>
<line x1="362" y1="778" x2="507" y2="778" stroke="#000" stroke-width="1.5"/>
<text x="438" y="795" class="b" font-size="13.5" text-anchor="middle">TGFβ1-Exo</text>

<!-- ================= PANEL I ================= -->
<text x="516" y="628" class="b" font-size="20">I</text>
<path class="ax" d="M579,627 V756 H763"/>
<g stroke="#000" stroke-width="2"><line x1="575" y1="627" x2="579" y2="627"/><line x1="575" y1="659.25" x2="579" y2="659.25"/><line x1="575" y1="691.5" x2="579" y2="691.5"/><line x1="575" y1="723.75" x2="579" y2="723.75"/><line x1="575" y1="756" x2="579" y2="756"/></g>
<text x="575" y="632.5" class="tk2">20</text><text x="575" y="664.75" class="tk2">15</text><text x="575" y="697" class="tk2">10</text><text x="575" y="729.25" class="tk2">5</text><text x="575" y="761.5" class="tk2">0</text>
<text transform="translate(549,690) rotate(-90)" class="b" font-size="15" text-anchor="middle" dominant-baseline="central">α-SMA level</text>
<rect class="bar" x="586" y="750.8" width="19" height="5.2" stroke="#8c8c8c"/>
<path class="er" stroke="#8c8c8c" d="M595.5,750.8 V748.9 M591.5,748.9 H599.5"/>
<rect class="bar" x="617" y="721.2" width="18" height="34.8" stroke="#000"/>
<path class="er" stroke="#000" d="M626,721.2 V713.4 M621,713.4 H631"/>
<rect class="bar" x="646" y="719.2" width="19" height="36.8" stroke="#1f8a24"/>
<path class="er" stroke="#1f8a24" d="M655.5,719.2 V711.5 M650.5,711.5 H660.5"/>
<rect class="bar" x="677" y="667.6" width="19" height="88.4" stroke="#e41f26"/>
<path class="er" stroke="#e41f26" d="M686.5,667.6 V652.8 M681.5,652.8 H691.5"/>
<rect class="bar" x="708" y="721.2" width="19" height="34.8" stroke="#a7a033"/>
<path class="er" stroke="#a7a033" d="M717.5,721.2 V712.1 M712.5,712.1 H722.5"/>
<rect class="bar" x="738" y="746.3" width="19" height="9.7" stroke="#1d1d9e"/>
<path class="er" stroke="#1d1d9e" d="M747.5,746.3 V744.4 M742.5,744.4 H752.5"/>
<text x="626" y="713" class="b" font-size="16" text-anchor="middle">*</text>
<text x="686.5" y="647" font-size="15" text-anchor="middle">#</text>
<text x="748" y="740" font-size="15" text-anchor="middle">#</text>
<text x="596" y="770" class="xl">Sham</text><text x="626" y="770" class="xl">Ctrl</text>
<text x="655.5" y="764.5" class="xl">Mimics</text><text x="655.5" y="774" class="xl">NC</text>
<text x="686.5" y="764.5" class="xl">MiR-21</text><text x="686.5" y="774" class="xl">mimics</text>
<text x="717.5" y="764.5" class="xl">Inhibitor</text><text x="717.5" y="774" class="xl">NC</text>
<text x="747.5" y="764.5" class="xl">MiR-21</text><text x="747.5" y="774" class="xl">inhibitor</text>
<line x1="618" y1="779" x2="765" y2="779" stroke="#000" stroke-width="1.5"/>
<text x="692" y="795" class="b" font-size="13.5" text-anchor="middle">TGFβ1-Exo</text>
</svg>
</body></html>
